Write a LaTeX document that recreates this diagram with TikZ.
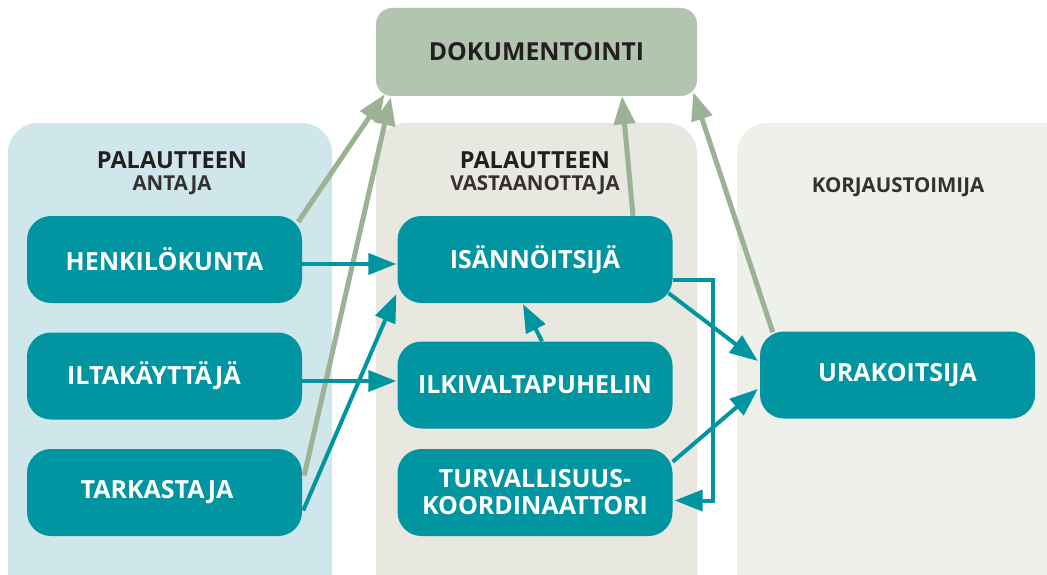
\documentclass[tikz,border=0pt]{standalone}
\usepackage{fontspec}
\setmainfont{Open Sans}[BoldFont=* Bold]
\usetikzlibrary{arrows.meta,calc}
\definecolor{tealc}{HTML}{0095A0}
\definecolor{greenar}{HTML}{9BB294}
\definecolor{docfill}{HTML}{B2C5AF}
\definecolor{leftpan}{HTML}{CFE6EA}
\definecolor{midpan}{HTML}{E8E7E0}
\definecolor{rightpan}{HTML}{EEF0EA}
\definecolor{darktext}{HTML}{231F20}
\tikzset{
  actor/.style={rectangle, rounded corners=24pt, fill=tealc, minimum width=275pt, minimum height=87pt, text=white, font=\bfseries\fontsize{25}{27}\selectfont, align=center, inner sep=0pt},
  panel/.style={rounded corners=30pt},
  headb/.style={text=darktext, font=\bfseries\fontsize{23.5}{24}\selectfont, inner sep=0pt},
  heads/.style={text=darktext!92!white, font=\bfseries\fontsize{20.5}{24}\selectfont, inner sep=0pt},
  tealarrow/.style={draw=tealc, line width=4pt, -{Triangle[length=28pt,width=21pt]}},
  greenarrow/.style={draw=greenar, line width=5pt, -{Triangle[length=28pt,width=21pt]}}
}
\begin{document}
\begin{tikzpicture}[x=1pt,y=-1pt]
\useasboundingbox (0,0) rectangle (1047,575);
\clip (0,0) rectangle (1047,575);
% panels
\fill[leftpan, panel] (8,123) rectangle (332,620);
\fill[midpan, panel] (376,123) rectangle (697,620);
\fill[rightpan, panel] (737,123) rectangle (1080,620);
% documentation box
\node[rectangle, rounded corners=16pt, fill=docfill, minimum width=321pt, minimum height=88pt, inner sep=0pt, text=darktext, font=\bfseries\fontsize{24.8}{26}\selectfont] (dok) at (536.5,52) {DOKUMENTOINTI};
% headers
\node[headb] (h1a) at (172,160) {PALAUTTEEN};
\node[heads] (h1b) at (172,185) {ANTAJA};
\node[headb] (h2a) at (535,160) {PALAUTTEEN};
\node[heads] (h2b) at (535,185) {VASTAANOTTAJA};
\node[heads] (h3) at (898,187) {KORJAUSTOIMIJA};
% actors
\node[actor] (henk) at (164.5,259.5) {HENKILÖKUNTA};
\node[actor] (ilta) at (164.5,376) {\hspace*{-21pt}ILTAKÄYTTÄJÄ};
\node[actor] (tark) at (164.5,492.5) {\hspace*{-15pt}\raisebox{-3pt}{TARKASTAJA}};
\node[actor] (isan) at (535,259.5) {ISÄNNÖITSIJÄ};
\node[actor] (ilki) at (535,385) {ILKIVALTAPUHELIN};
\node[actor] (turv) at (535,492.5) {TURVALLISUUS-\\KOORDINAATTORI};
\node[actor] (urak) at (897.5,375) {\raisebox{-2pt}{URAKOITSIJA}};
% green arrows to documentation
\draw[greenarrow] ($(henk.north east)+(-4,6)$) -- ($(dok.south west)+(9,-2)$);
\draw[greenarrow] ($(tark.east)+(2,-17)$) -- ($(dok.south west)+(15,1)$);
\draw[greenarrow] ($(isan.north)+(98,0)$) -- ($(dok.south)+(85.5,0)$);
\draw[greenarrow] ($(urak.north west)+(13,1)$) -- ($(dok.south east)+(-4,-4)$);
% teal arrows
\draw[tealarrow] ($(henk.east)+(0,4.5)$) -- ($(isan.west)+(-1,4.5)$);
\draw[tealarrow] ($(ilta.east)+(0,5)$) -- ($(ilki.west)+(-1,-4)$);
\draw[tealarrow] ($(tark.east)+(1,18)$) -- ($(isan.south west)+(-1,-9)$);
\draw[tealarrow] ($(ilki.north)+(7,0)$) -- ($(isan.south)+(-12,1)$);
\draw[tealarrow] ($(isan.south east)+(-4,-10)$) -- ($(urak.west)+(-2,-14)$);
\draw[tealarrow] ($(turv.north east)+(0,13)$) -- ($(urak.west)+(-2,14)$);
\draw[tealarrow] ($(isan.east)+(0,20.5)$) -| ($(turv.east)+(40,8)$) -- ($(turv.east)+(2,8)$);
\end{tikzpicture}
\end{document}
